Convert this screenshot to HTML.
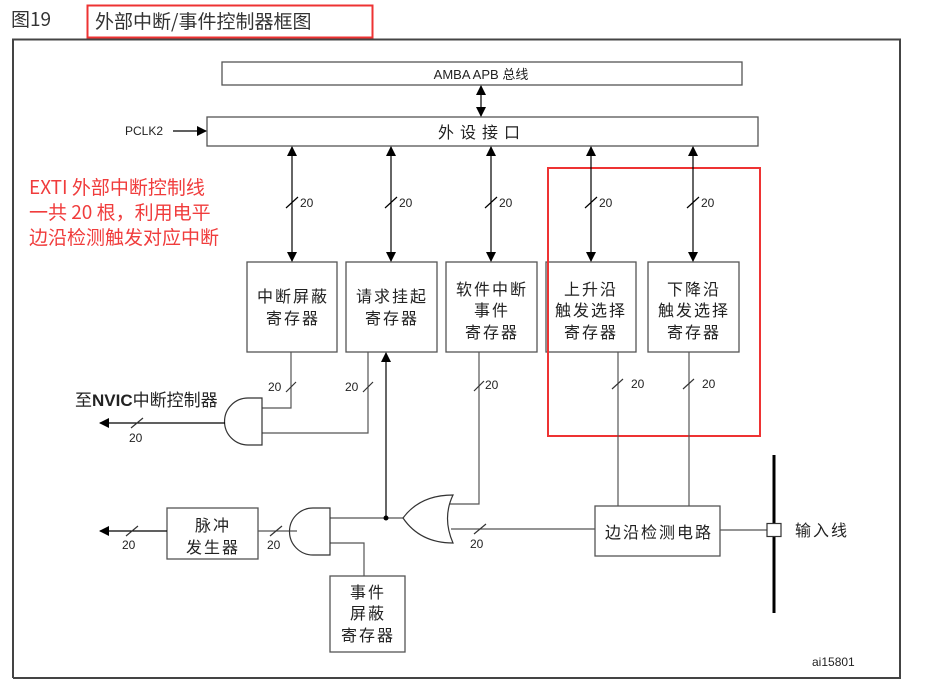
<!DOCTYPE html>
<html><head><meta charset="utf-8"><style>
html,body{margin:0;padding:0;background:#fff;}
svg{display:block;}
text{font-family:"Liberation Sans","Noto Sans CJK SC",sans-serif;}
.cjk{font-family:"Noto Sans CJK SC","WenQuanYi Zen Hei",sans-serif;}
.red{fill:#f03c3c;}
</style></head><body>
<svg width="925" height="696" viewBox="0 0 925 696" xmlns="http://www.w3.org/2000/svg" fill="#222">
<defs>
<marker id="ah" markerWidth="10" markerHeight="10" refX="9" refY="5" orient="auto-start-reverse" markerUnits="userSpaceOnUse">
<path d="M0,0 L10,5 L0,10 z" fill="#000"/></marker>
</defs>
<!-- title -->
<text x="11" y="26" font-size="19" class="cjk" style="fill:#333">图19</text>
<rect x="87.5" y="5.5" width="285" height="32" fill="none" stroke="#ee3333" stroke-width="2"/>
<text x="95" y="28" font-size="19" class="cjk" style="fill:#333">外部中断/事件控制器框图</text>
<!-- frame -->
<path d="M13,678 L13,39.5 L900,39.5 L900,678 L13,678" fill="none" stroke="#444" stroke-width="2"/>
<!-- red note -->
<g font-size="19" class="cjk">
<text x="29" y="194" class="red cjk">EXTI 外部中断控制线</text>
<text x="29" y="219" class="red cjk">一共 20 根，利用电平</text>
<text x="29" y="244" class="red cjk">边沿检测触发对应中断</text>
</g>
<g stroke="#555" stroke-width="1.3" fill="none">
<rect x="222" y="62" width="520" height="23"/>
<rect x="207" y="117" width="551" height="29"/>
<rect x="247" y="262" width="90" height="90"/>
<rect x="346" y="262" width="91" height="90"/>
<rect x="446" y="262" width="91" height="90"/>
<rect x="546" y="262" width="90" height="90"/>
<rect x="648" y="262" width="91" height="90"/>
<rect x="167" y="508" width="91" height="51"/>
<rect x="330" y="576" width="75" height="76"/>
<rect x="595" y="506" width="125" height="50"/>
</g>
<!-- red box -->
<rect x="548" y="168" width="212" height="268" fill="none" stroke="#ee3333" stroke-width="2"/>
<!-- texts -->
<text x="481" y="79" font-size="13" text-anchor="middle">AMBA APB <tspan class="cjk">总线</tspan></text>
<text x="482" y="138" font-size="16" text-anchor="middle" class="cjk" letter-spacing="6">外设接口</text>
<text x="125" y="135" font-size="12">PCLK2</text>
<line x1="173" y1="131" x2="206" y2="131" stroke="#000" stroke-width="1.2" marker-end="url(#ah)"/>
<line x1="481" y1="86" x2="481" y2="116" stroke="#000" stroke-width="1.2" marker-start="url(#ah)" marker-end="url(#ah)"/>
<g stroke="#000" stroke-width="1.2">
<line x1="292" y1="147" x2="292" y2="261" marker-start="url(#ah)" marker-end="url(#ah)"/>
<line x1="391" y1="147" x2="391" y2="261" marker-start="url(#ah)" marker-end="url(#ah)"/>
<line x1="491" y1="147" x2="491" y2="261" marker-start="url(#ah)" marker-end="url(#ah)"/>
<line x1="591" y1="147" x2="591" y2="261" marker-start="url(#ah)" marker-end="url(#ah)"/>
<line x1="693" y1="147" x2="693" y2="261" marker-start="url(#ah)" marker-end="url(#ah)"/>
<path d="M286,208 L298,197 M385,208 L397,197 M485,208 L497,197 M585,208 L597,197 M687,208 L699,197"/>
</g>
<g font-size="12">
<text x="300" y="207">20</text><text x="399" y="207">20</text><text x="499" y="207">20</text><text x="599" y="207">20</text><text x="701" y="207">20</text>
</g>
<g class="cjk" font-size="16" text-anchor="middle" letter-spacing="2">
<text x="293" y="302">中断屏蔽</text><text x="293" y="324">寄存器</text>
<text x="392" y="302">请求挂起</text><text x="392" y="324">寄存器</text>
<text x="492" y="295">软件中断</text><text x="492" y="316">事件</text><text x="492" y="338">寄存器</text>
<text x="591" y="295">上升沿</text><text x="591" y="316">触发选择</text><text x="591" y="338">寄存器</text>
<text x="694" y="295">下降沿</text><text x="694" y="316">触发选择</text><text x="694" y="338">寄存器</text>
<text x="213" y="531">脉冲</text><text x="213" y="553">发生器</text>
<text x="368" y="598">事件</text><text x="368" y="619">屏蔽</text><text x="368" y="641">寄存器</text>
<text x="659" y="538">边沿检测电路</text>
<text x="795" y="536" text-anchor="start">输入线</text>
</g>
<text x="75" y="406" font-size="17" class="cjk">至<tspan font-weight="bold" font-family="Liberation Sans">NVIC</tspan>中断控制器</text>
<!-- wiring -->
<g stroke="#555" stroke-width="1.2" fill="none">
<path d="M291,352 L291,408 L262,408"/>
<path d="M368,352 L368,433 L262,433"/>
<path d="M479,352 L479,504 L449,504"/>
<path d="M595,529 L451,529"/>
<path d="M403,518 L330,518"/>
<path d="M364,576 L364,543 L330,543"/>
<path d="M297,531 L258,531"/>
<path d="M618,352 L618,506 M689,352 L689,506"/>
<path d="M720,530 L767,530"/>
</g>
<g stroke="#333" stroke-width="1.2" fill="none">
<path d="M262,398 L248,398 A23.5,23.5 0 0 0 248,445 L262,445 Z"/>
<path d="M330,508 L313,508 A23.5,23.5 0 0 0 313,555 L330,555 Z"/>
<path d="M453,495 Q442,518 453,543 Q420,543 403,518 Q420,495 453,495 Z"/>
</g>
<line x1="386" y1="518" x2="386" y2="353" stroke="#000" stroke-width="1.2" marker-end="url(#ah)"/>
<circle cx="386" cy="518" r="2.5" fill="#000"/>
<line x1="225" y1="423" x2="100" y2="423" stroke="#000" stroke-width="1.2" marker-end="url(#ah)"/>
<line x1="167" y1="531" x2="100" y2="531" stroke="#000" stroke-width="1.2" marker-end="url(#ah)"/>
<g stroke="#333" stroke-width="1.2">
<path d="M131,428 L143,418 M126,536 L138,526 M270,536 L282,526 M474,534 L486,524 M286,392 L296,382 M363,392 L373,382 M474,391 L484,381 M612,389 L623,379 M683,389 L694,379"/>
</g>
<g font-size="12">
<text x="129" y="442">20</text><text x="122" y="549">20</text><text x="267" y="549">20</text><text x="470" y="548">20</text>
<text x="268" y="391">20</text><text x="345" y="391">20</text><text x="485" y="389">20</text>
<text x="631" y="388">20</text><text x="702" y="388">20</text>
<text x="812" y="666">ai15801</text>
</g>
<line x1="774" y1="455" x2="774" y2="613" stroke="#000" stroke-width="3"/>
<rect x="767" y="523.5" width="14" height="13" fill="#fff" stroke="#333" stroke-width="1.2"/>
</svg>
</body></html>
